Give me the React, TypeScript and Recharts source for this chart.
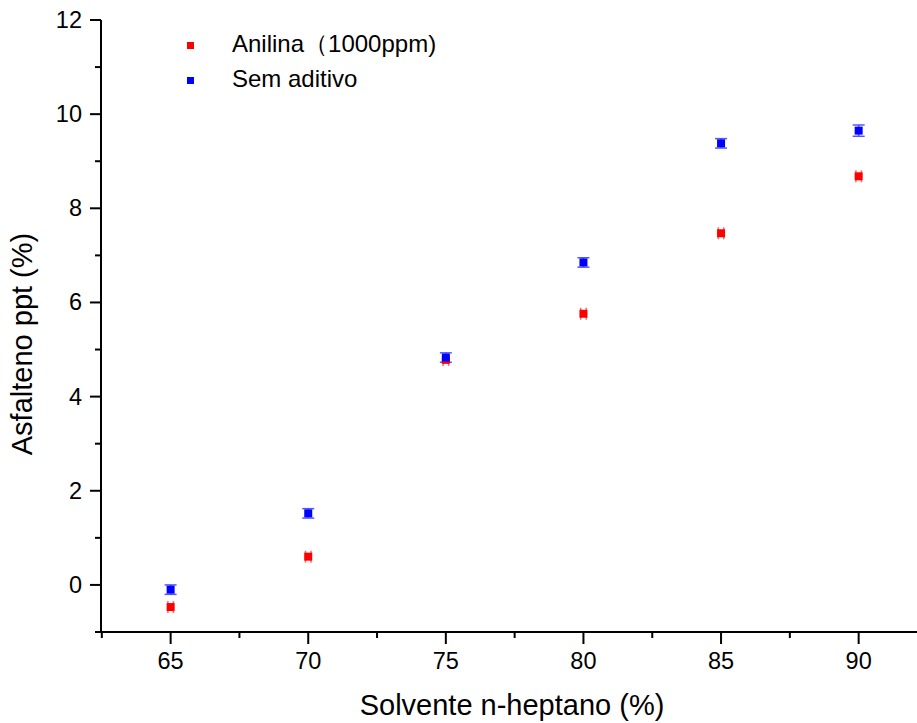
import { ErrorBar, Label, Scatter, ScatterChart, XAxis, YAxis } from "recharts";

// Solvent fraction (% n-heptane) on the x axis
const solvente = [65, 70, 75, 80, 85, 90];

// Asphaltene precipitated (%)
const anilina = [-0.47, 0.6, 4.78, 5.76, 7.47, 8.68];
const semAditivo = [-0.1, 1.52, 4.83, 6.85, 9.38, 9.65];

// error half-widths (small)
const anilinaErrX = [0.1, 0.1, 0.1, 0.1, 0.1, 0.1];
const semAditivoErrY = [0.1, 0.1, 0.1, 0.1, 0.1, 0.12];

const xTicks = [62.5, 65, 67.5, 70, 72.5, 75, 77.5, 80, 82.5, 85, 87.5, 90];
const yTicks = [-1, 0, 1, 2, 3, 4, 5, 6, 7, 8, 9, 10, 11, 12];

const FONT = "'Liberation Sans', Arial, sans-serif";

const redData = solvente.map((x, i) => ({ x, y: anilina[i], ex: anilinaErrX[i] }));
const blueData = solvente.map((x, i) => ({ x, y: semAditivo[i], ey: semAditivoErrY[i] }));

const legendItems = [
  { label: "Anilina（1000ppm)", color: "#ff0000" },
  { label: "Sem aditivo", color: "#0000ff" },
];

function XTick(props: any) {
  const { x, y, payload } = props;
  const v = payload.value as number;
  const major = Number.isInteger(v) && v % 5 === 0;
  return (
    <g>
      <line x1={x} x2={x} y1={y} y2={y + (major ? 12 : 6)} stroke="#000" strokeWidth={2} />
      {major && (
        <text x={x} y={y + 37} textAnchor="middle" style={{ fontSize: 23.5, fontFamily: FONT }} fill="#000">
          {v}
        </text>
      )}
    </g>
  );
}

function YTick(props: any) {
  const { x, y, payload } = props;
  const v = payload.value as number;
  const major = v >= 0 && v % 2 === 0;
  return (
    <g>
      <line x1={x - (major ? 11 : 6)} x2={x} y1={y} y2={y} stroke="#000" strokeWidth={2} />
      {major && (
        <text x={x - 19} y={y + 8} textAnchor="end" style={{ fontSize: 23.5, fontFamily: FONT }} fill="#000">
          {v}
        </text>
      )}
    </g>
  );
}

function Marker(props: any) {
  const { cx, cy, fill } = props;
  return <rect x={cx - 4} y={cy - 4} width={8} height={8} fill={fill} />;
}

function LegendBox() {
  return (
    <div style={{ position: "absolute", left: 180, top: 28, fontFamily: FONT, fontSize: 24 }}>
      {legendItems.map((it) => (
        <div key={it.label} style={{ position: "relative", height: 35, width: 300 }}>
          <div
            style={{ position: "absolute", left: 7, top: 14, width: 7, height: 7, background: it.color }}
          />
          <div style={{ position: "absolute", left: 52, top: 2, lineHeight: "28px", color: "#000", whiteSpace: "nowrap" }}>
            {it.label}
          </div>
        </div>
      ))}
    </div>
  );
}

export default function App() {
  return (
    <div style={{ position: "absolute", left: 0, top: 0, width: 917, height: 723, background: "#fff" }}>
      <ScatterChart width={917} height={723} margin={{ top: 20, right: 0, bottom: 0, left: 0 }}>
        <XAxis
          type="number"
          dataKey="x"
          domain={[62.47, 92.12]}
          ticks={xTicks}
          interval={0}
          allowDataOverflow
          height={91}
          tickSize={0}
          tickMargin={0}
          tickLine={false}
          tick={<XTick />}
          axisLine={{ stroke: "#000", strokeWidth: 2 }}
        >
          <Label
            content={() => (
              <text x={512} y={715} textAnchor="middle" style={{ fontSize: 29, fontFamily: FONT }} fill="#000">
                Solvente n-heptano (%)
              </text>
            )}
          />
        </XAxis>
        <YAxis
          type="number"
          dataKey="y"
          domain={[-1, 12]}
          ticks={yTicks}
          interval={0}
          allowDataOverflow
          width={101}
          tickSize={0}
          tickMargin={0}
          tickLine={false}
          tick={<YTick />}
          axisLine={{ stroke: "#000", strokeWidth: 2 }}
        >
          <Label
            content={() => (
              <text
                x={32}
                y={344}
                transform="rotate(-90 32 344)"
                textAnchor="middle"
                style={{ fontSize: 29, fontFamily: FONT }}
                fill="#000"
              >
                Asfalteno ppt (%)
              </text>
            )}
          />
        </YAxis>
        <Scatter
          name="Anilina（1000ppm)"
          data={redData}
          fill="#ff0000"
          shape={<Marker />}
          isAnimationActive={false}
        >
          <ErrorBar dataKey="ex" direction="x" width={6} stroke="#ff6666" strokeWidth={1.5} />
        </Scatter>
        <Scatter
          name="Sem aditivo"
          data={blueData}
          fill="#0000ff"
          shape={<Marker />}
          isAnimationActive={false}
        >
          <ErrorBar dataKey="ey" direction="y" width={6} stroke="#5555ff" strokeWidth={1.5} />
        </Scatter>
      </ScatterChart>
      <LegendBox />
    </div>
  );
}
